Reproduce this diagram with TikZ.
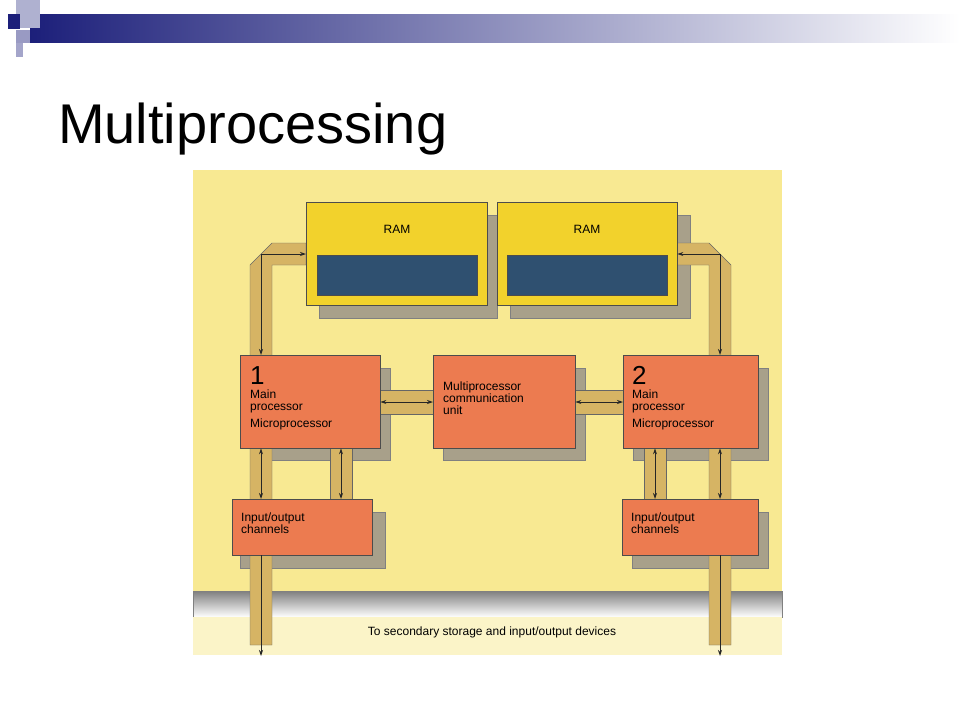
\documentclass[tikz,border=0pt]{standalone}
\usepackage{fontspec}
\setmainfont{Liberation Sans}
\usepackage{tikz}
\usetikzlibrary{arrows.meta,positioning}
\definecolor{paper}{HTML}{F8E992}
\definecolor{ramyellow}{HTML}{F2D22C}
\definecolor{ramblue}{HTML}{2F5070}
\definecolor{cpuorange}{HTML}{EC7B50}
\definecolor{bustan}{HTML}{D6B464}
\definecolor{shade}{HTML}{A8A08A}
\definecolor{barblue}{HTML}{1C1F7A}
\tikzset{
  box/.style={draw=black!70,anchor=north west,inner sep=0pt},
  shadow/.style={fill=shade,draw=black!50},
  bus/.style={fill=bustan,draw=black!60},
  arr/.style={-{Stealth[length=6pt,width=4pt]},thick,black!85},
  darr/.style={{Stealth[length=6pt,width=4pt]}-{Stealth[length=6pt,width=4pt]},thick,black!85},
  lbl/.style={font=\fontsize{12}{14}\selectfont,align=left,anchor=north west,inner sep=0pt}
}
\begin{document}
\begin{tikzpicture}[x=1pt,y=-1pt]
        \useasboundingbox (0,0) rectangle (960,720);
        \fill[white] (0,0) rectangle (960,720);

        % header bar
        \shade[left color=barblue,right color=white] (30,14) rectangle (960,42);
        \fill[barblue!35] (16,0) rectangle (40,28);
        \fill[barblue!45] (16,30) rectangle (30,43);
        \fill[barblue!40] (16,43) rectangle (23,57);
        \fill[barblue] (8,14) rectangle (20,29);
        \node[anchor=base west,font=\fontsize{56}{60}\selectfont,inner sep=0pt] (title) at (58,143) {Multiprocessing};

        % page of the book
        \fill[paper] (193,170) rectangle (782,655);
        \fill[shade,draw=black!50] (193,591) rectangle (782,617);
        \fill[paper!50] (193,617) rectangle (782,655);
        \node[font=\fontsize{12}{14}\selectfont] (dest) at (492,632) {To secondary storage and input/output devices};

        % shadows
        \foreach \xa/\ya/\xb/\yb in {319/215/497/318, 510/215/690/318, 250/368/390/460, 443/368/585/460, 633/368/768/460, 240/512/385/568, 632/512/768/568}
            \draw[shadow] (\xa,\ya) rectangle (\xb,\yb);

        % buses
        \draw[bus] (250,645) -- (250,265) -- (272,243) -- (306,243) -- (306,265) -- (272,265) -- (272,645) -- cycle;
        \draw[bus] (731,645) -- (731,265) -- (709,243) -- (677,243) -- (677,265) -- (709,265) -- (709,645) -- cycle;
        \draw[bus] (330,440) rectangle (352,505);
        \draw[bus] (644,440) rectangle (666,505);
        \draw[bus] (372,390) rectangle (433,414);
        \draw[bus] (567,390) rectangle (623,414);

        % boxes
        \node[box,fill=ramyellow,minimum width=181pt,minimum height=103pt] (ram1) at (306,202) {};
        \node[box,fill=ramyellow,minimum width=180pt,minimum height=103pt] (ram2) at (497,202) {};
        \node[box,fill=ramblue,minimum width=160pt,minimum height=40pt] (bank1) at (317,255) {};
        \node[box,fill=ramblue,minimum width=160pt,minimum height=40pt] (bank2) at (507,255) {};
        \node[font=\fontsize{12}{14}\selectfont] at (397,229) {RAM};
        \node[font=\fontsize{12}{14}\selectfont] at (587,229) {RAM};

        \node[box,fill=cpuorange,minimum width=140pt,minimum height=93pt] (cpu1) at (240,355) {};
        \node[box,fill=cpuorange,minimum width=142pt,minimum height=93pt] (mcu) at (433,355) {};
        \node[box,fill=cpuorange,minimum width=135pt,minimum height=93pt] (cpu2) at (623,355) {};
        \node[box,fill=cpuorange,minimum width=140pt,minimum height=56pt] (io1) at (232,499) {};
        \node[box,fill=cpuorange,minimum width=136pt,minimum height=56pt] (io2) at (622,499) {};

        \node[lbl,font=\fontsize{26}{28}\selectfont] at (250,366) {1};
        \node[lbl] at (250,390) {Main\\[-2pt]processor\\[3pt]Microprocessor};
        \node[lbl,font=\fontsize{26}{28}\selectfont] at (632,366) {2};
        \node[lbl] at (632,390) {Main\\[-2pt]processor\\[3pt]Microprocessor};
        \node[lbl] at (443,382) {Multiprocessor\\[-2pt]communication\\[-2pt]unit};
        \node[lbl] at (241,513) {Input/output\\[-2pt]channels};
        \node[lbl] at (631,513) {Input/output\\[-2pt]channels};

        % arrows
        \coordinate (lturn) at (261,254);
        \coordinate (rturn) at (720,254);
        \draw[arr] (lturn) -- (ram1.west |- lturn);
        \draw[arr] (lturn) -- (lturn |- cpu1.north);
        \draw[arr] (rturn) -- (ram2.east |- rturn);
        \draw[arr] (rturn) -- (rturn |- cpu2.north);
        \draw[darr] (cpu1.east |- 0,402) -- (mcu.west |- 0,402);
        \draw[darr] (mcu.east |- 0,402) -- (cpu2.west |- 0,402);
        \draw[darr] (cpu1.south -| 261,0) -- (io1.north -| 261,0);
        \draw[darr] (cpu1.south -| 341,0) -- (io1.north -| 341,0);
        \draw[darr] (cpu2.south -| 655,0) -- (io2.north -| 655,0);
        \draw[darr] (cpu2.south -| 720,0) -- (io2.north -| 720,0);
        \draw[arr] (io1.south -| 261,0) -- (261,656);
        \draw[arr] (io2.south -| 720,0) -- (720,656);
    \end{tikzpicture}
\end{document}
